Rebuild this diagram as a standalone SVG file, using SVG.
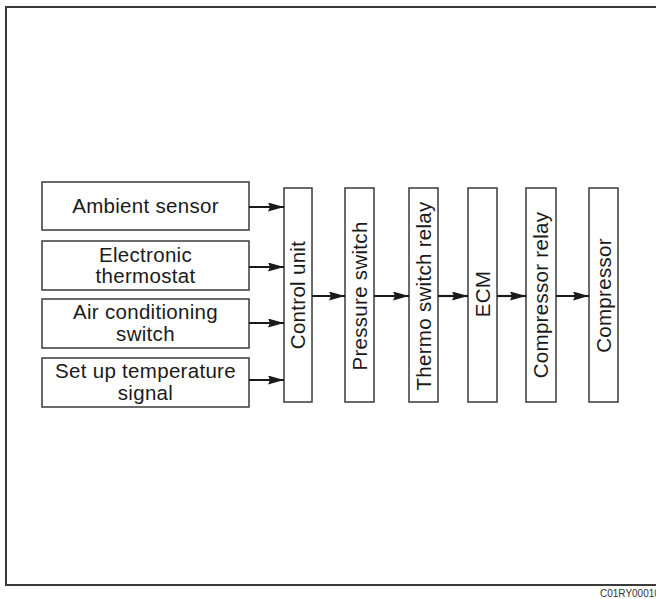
<svg xmlns="http://www.w3.org/2000/svg" width="656" height="599" viewBox="0 0 656 599">
<style>
.frame{fill:none;stroke:#3a3a3a;stroke-width:2}
.box{fill:#fff;stroke:#3a3a3a;stroke-width:1.5}
.t{font-family:"Liberation Sans",Arial,sans-serif;font-size:20.5px;letter-spacing:0.3px;fill:#1a1a1a;text-anchor:middle}
.code{font-family:"Liberation Sans",Arial,sans-serif;font-size:10px;fill:#333}
.c{stroke:#1a1a1a;stroke-width:2.2;fill:none;marker-end:url(#ah)}
</style>
<defs>
<marker id="ah" markerUnits="userSpaceOnUse" viewBox="0 0 16 9" refX="16" refY="4.5" markerWidth="16" markerHeight="9" orient="auto">
<path d="M0,0 L16,4.5 L0,9 L2,4.5 z" fill="#1a1a1a"/>
</marker>
</defs>
<rect width="656" height="599" fill="#fff"/>
<path class="frame" d="M656,7 H6 V585 H656"/>
<text class="code" x="600" y="597">C01RY00010</text>

<g id="ambient-sensor"><rect class="box" x="42" y="182" width="207" height="48"/><text class="t" x="145.5" y="213">Ambient sensor</text></g>
<g id="electronic-thermostat"><rect class="box" x="42" y="241" width="207" height="49"/><text class="t" x="145.5" y="262">Electronic</text><text class="t" x="145.5" y="283">thermostat</text></g>
<g id="ac-switch"><rect class="box" x="42" y="299" width="207" height="49"/><text class="t" x="145.5" y="319">Air conditioning</text><text class="t" x="145.5" y="341">switch</text></g>
<g id="setup-temp"><rect class="box" x="42" y="358" width="207" height="49"/><text class="t" x="145.5" y="378">Set up temperature</text><text class="t" x="145.5" y="400">signal</text></g>

<g id="control-unit"><rect class="box" x="284" y="188" width="28" height="214"/><text class="t" transform="translate(298,295) rotate(-90)" y="7">Control unit</text></g>
<g id="pressure-switch"><rect class="box" x="345" y="188" width="29" height="214"/><text class="t" transform="translate(359.5,296) rotate(-90)" y="7">Pressure switch</text></g>
<g id="thermo-switch-relay"><rect class="box" x="409" y="188" width="29" height="214"/><text class="t" transform="translate(423.5,296) rotate(-90)" y="7">Thermo switch relay</text></g>
<g id="ecm"><rect class="box" x="468" y="188" width="29" height="214"/><text class="t" transform="translate(482.5,294) rotate(-90)" y="7">ECM</text></g>
<g id="compressor-relay"><rect class="box" x="526" y="188" width="30" height="214"/><text class="t" transform="translate(541,295) rotate(-90)" y="7">Compressor relay</text></g>
<g id="compressor"><rect class="box" x="589" y="188" width="29" height="214"/><text class="t" transform="translate(603.5,295.5) rotate(-90)" y="7">Compressor</text></g>

<g id="connectors">
<line class="c" x1="249" y1="207" x2="284" y2="207"/>
<line class="c" x1="249" y1="267" x2="284" y2="267"/>
<line class="c" x1="249" y1="323" x2="284" y2="323"/>
<line class="c" x1="249" y1="380" x2="284" y2="380"/>
<line class="c" x1="312" y1="296" x2="345" y2="296"/>
<line class="c" x1="374" y1="296" x2="409" y2="296"/>
<line class="c" x1="438" y1="296" x2="468" y2="296"/>
<line class="c" x1="497" y1="296" x2="526" y2="296"/>
<line class="c" x1="556" y1="296" x2="589" y2="296"/>
</g>
</svg>
